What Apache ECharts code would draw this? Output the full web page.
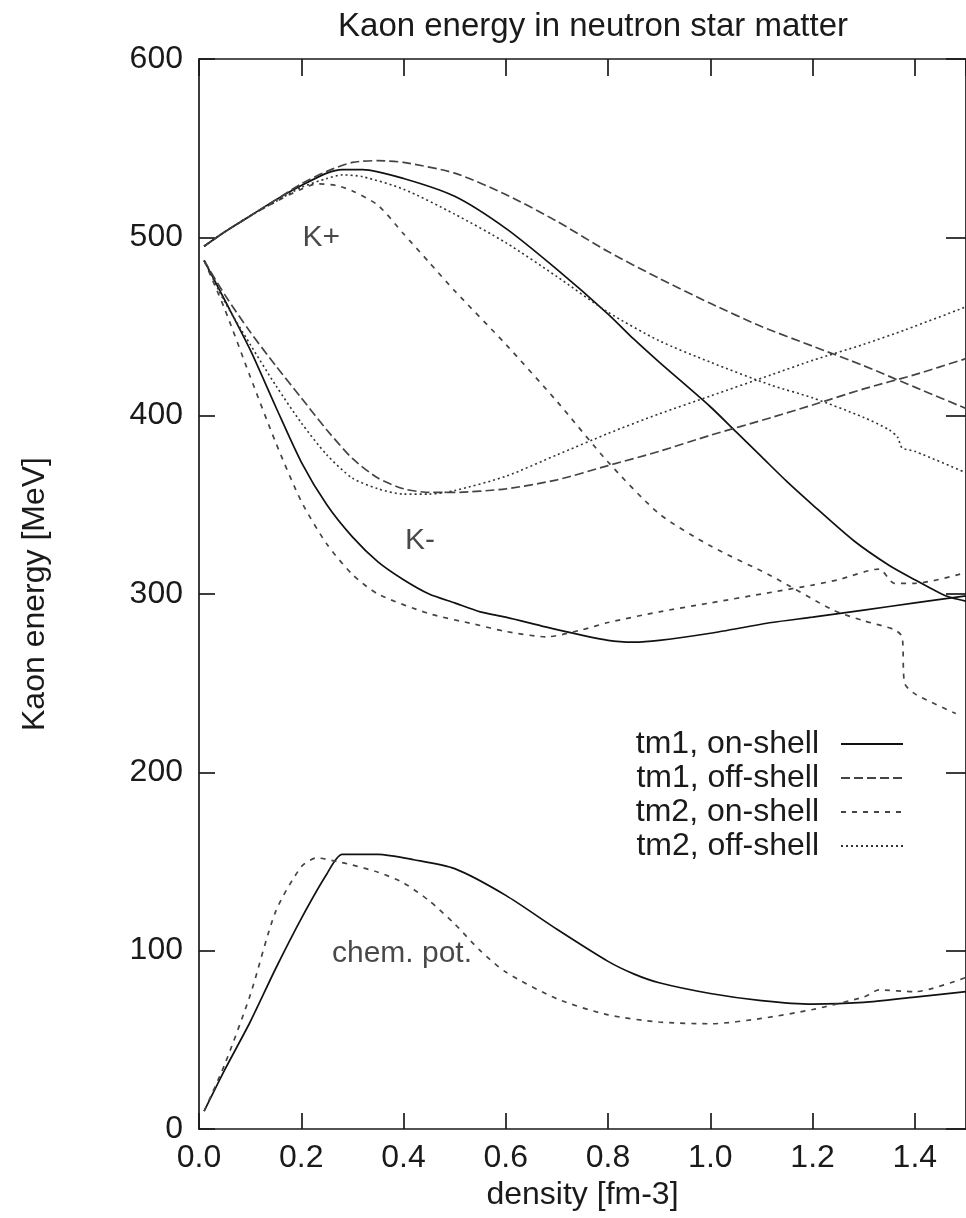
<!DOCTYPE html>
<html>
<head>
<meta charset="utf-8">
<script src="https://cdn.jsdelivr.net/npm/echarts@6/dist/echarts.min.js"></script>
<style>
  html, body { margin: 0; padding: 0; background: #fff; }
  #chart { width: 966px; height: 1218px; }
</style>
</head>
<body>
<div id="chart"></div>
<script>
// Kaon energies (MeV) versus baryon density (fm^-3), with the K- chemical potential.
const xTicks = [0.0, 0.2, 0.4, 0.6, 0.8, 1.0, 1.2, 1.4];
const yTicks = [0, 100, 200, 300, 400, 500, 600];

// tm1, on-shell
const tm1OnKplus = [[0.01,495],[0.05,503],[0.1,512],[0.15,521],[0.2,529],[0.25,536],[0.28,538],[0.32,538],[0.4,533],[0.5,523],[0.6,505],[0.7,482],[0.8,457],[0.85,443],[0.9,430],[1.0,405],[1.05,391],[1.1,377],[1.15,363],[1.2,350],[1.28,330],[1.35,316],[1.4,308],[1.46,299],[1.5,296]];
const tm1OnKminus = [[0.01,487],[0.05,465],[0.1,437],[0.15,405],[0.2,374],[0.25,350],[0.3,332],[0.35,318],[0.4,308],[0.45,300],[0.5,295],[0.55,290],[0.6,287],[0.7,280],[0.8,274],[0.85,273],[0.9,274],[1.0,278],[1.12,284],[1.2,287],[1.3,291],[1.4,295],[1.5,299]];
const tm1OnChem = [[0.01,10],[0.05,33],[0.1,60],[0.15,90],[0.2,118],[0.25,143],[0.28,154],[0.35,154],[0.42,151],[0.5,146],[0.6,131],[0.7,112],[0.8,94],[0.85,87],[0.9,82],[1.0,76],[1.1,72],[1.2,70],[1.3,71],[1.4,74],[1.5,77]];

// tm1, off-shell
const tm1OffKplus = [[0.01,495],[0.05,503],[0.1,512],[0.15,521],[0.2,530],[0.25,537],[0.3,542],[0.35,543],[0.4,542],[0.5,536],[0.6,524],[0.7,509],[0.8,492],[0.9,477],[1.0,463],[1.1,450],[1.2,439],[1.3,428],[1.4,416],[1.5,404]];
const tm1OffKminus = [[0.01,487],[0.05,468],[0.1,447],[0.15,428],[0.2,410],[0.25,392],[0.3,376],[0.35,365],[0.4,359],[0.45,357],[0.5,357],[0.6,359],[0.7,364],[0.8,372],[0.9,380],[1.0,389],[1.12,399],[1.2,406],[1.3,415],[1.4,423],[1.5,432]];

// tm2, on-shell
const tm2OnKplus = [[0.01,495],[0.05,503],[0.1,512],[0.15,520],[0.2,527],[0.23,530],[0.27,529],[0.3,526],[0.35,518],[0.4,502],[0.45,486],[0.5,470],[0.6,440],[0.7,408],[0.8,374],[0.9,345],[1.0,327],[1.12,310],[1.24,291],[1.3,285],[1.36,280],[1.375,276],[1.38,250],[1.4,244],[1.48,233]];
const tm2OnKminus = [[0.01,487],[0.05,460],[0.1,422],[0.15,385],[0.2,352],[0.25,328],[0.3,311],[0.35,300],[0.45,289],[0.54,283],[0.6,279],[0.68,276],[0.75,280],[0.8,284],[0.9,290],[1.0,295],[1.12,301],[1.2,305],[1.25,308],[1.33,314],[1.36,306],[1.4,306],[1.5,312]];
const tm2OnChem = [[0.01,10],[0.05,36],[0.1,75],[0.15,122],[0.2,147],[0.23,152],[0.27,150],[0.3,148],[0.35,144],[0.4,138],[0.45,128],[0.5,115],[0.55,100],[0.6,88],[0.7,73],[0.8,64],[0.9,60],[1.0,59],[1.1,62],[1.2,67],[1.3,74],[1.33,78],[1.4,77],[1.5,85]];

// tm2, off-shell
const tm2OffKplus = [[0.01,495],[0.05,503],[0.1,512],[0.15,520],[0.2,528],[0.25,533],[0.28,535],[0.32,534],[0.4,527],[0.5,513],[0.6,497],[0.7,478],[0.8,458],[0.9,442],[1.0,430],[1.12,417],[1.2,410],[1.3,399],[1.35,392],[1.366,388],[1.375,382],[1.4,380],[1.5,368]];
const tm2OffKminus = [[0.01,487],[0.05,464],[0.1,440],[0.15,417],[0.2,396],[0.25,378],[0.3,365],[0.35,359],[0.4,356],[0.45,356],[0.5,358],[0.6,366],[0.7,378],[0.8,390],[0.9,401],[1.0,411],[1.12,423],[1.2,431],[1.3,440],[1.38,448],[1.5,461]];

// Curve annotations
const noteText = ['K+', 'K-', 'chem. pot.'];
const noteX = [0.239, 0.432, 0.397];
const noteY = [500, 330, 98];

const legendNames = ['tm1, on-shell', 'tm1, off-shell', 'tm2, on-shell', 'tm2, off-shell'];

const FONT = 'Liberation Sans, Arial, sans-serif';
const INK = '#1a1a1a';
const FS = 32;

const styles = {
  'tm1, on-shell':  { color: '#111', type: 'solid', width: 1.7 },
  'tm1, off-shell': { color: '#444', type: [9, 4], width: 1.7 },
  'tm2, on-shell':  { color: '#444', type: [5, 6], width: 1.7 },
  'tm2, off-shell': { color: '#333', type: [2, 3], width: 1.6 }
};

function curve(name, data) {
  return {
    name: name,
    type: 'line',
    data: data,
    showSymbol: false,
    symbol: 'none',
    smooth: 0.25,
    lineStyle: styles[name],
    itemStyle: { color: styles[name].color },
    emphasis: { disabled: true },
    z: 3
  };
}

const chart = echarts.init(document.getElementById('chart'), null, { renderer: 'canvas' });

const axisLineStyle = { color: INK, width: 1.7 };
function frameAxis(tickLength) {
  return {
    axisLine: { onZero: false, lineStyle: axisLineStyle },
    axisTick: { inside: true, length: tickLength, lineStyle: axisLineStyle },
    splitLine: { show: false }
  };
}

chart.setOption({
  animation: false,
  backgroundColor: '#fff',
  title: {
    text: 'Kaon energy in neutron star matter',
    left: 588,
    top: 5,
    textAlign: 'center',
    textStyle: { fontFamily: FONT, fontSize: 33, fontWeight: 'normal', color: INK }
  },
  grid: { left: 199, top: 59, right: -11, bottom: 89, containLabel: false },
  legend: {
    data: legendNames,
    orient: 'vertical',
    align: 'right',
    right: 57,
    top: 723,
    itemWidth: 62,
    itemHeight: 14,
    itemGap: 2,
    selectedMode: false,
    itemStyle: { opacity: 0 },
    textStyle: { fontFamily: FONT, fontSize: FS, color: INK, padding: [0, 17, 0, 0], lineHeight: 31 }
  },
  xAxis: [
    Object.assign({
      type: 'value', min: 0, max: 1.5, interval: 0.2, position: 'bottom',
      name: 'density [fm-3]', nameLocation: 'middle', nameGap: 47,
      nameTextStyle: { fontFamily: FONT, fontSize: FS, color: INK },
      axisLabel: {
        margin: 13, fontFamily: FONT, fontSize: FS, color: INK, showMaxLabel: false,
        formatter: v => (xTicks.some(t => Math.abs(t - v) < 1e-9) ? v.toFixed(1) : '')
      }
    }, frameAxis(16)),
    Object.assign({
      type: 'value', min: 0, max: 1.5, interval: 0.2, position: 'top',
      axisLabel: { show: false }
    }, frameAxis(17))
  ],
  yAxis: [
    Object.assign({
      type: 'value', min: 0, max: 600, interval: 100, position: 'left',
      name: 'Kaon energy [MeV]', nameLocation: 'middle', nameGap: 148, nameRotate: 90,
      nameTextStyle: { fontFamily: FONT, fontSize: FS, color: INK },
      axisLabel: {
        margin: 16, fontFamily: FONT, fontSize: FS, color: INK,
        formatter: v => (yTicks.includes(v) ? String(v) : '')
      }
    }, frameAxis(16)),
    Object.assign({
      type: 'value', min: 0, max: 600, interval: 100, position: 'right',
      axisLabel: { show: false }
    }, frameAxis(20))
  ],
  series: [
    curve('tm1, on-shell', tm1OnKplus),
    curve('tm1, off-shell', tm1OffKplus),
    curve('tm2, on-shell', tm2OnKplus),
    curve('tm2, off-shell', tm2OffKplus),
    curve('tm1, on-shell', tm1OnKminus),
    curve('tm1, off-shell', tm1OffKminus),
    curve('tm2, on-shell', tm2OnKminus),
    curve('tm2, off-shell', tm2OffKminus),
    curve('tm1, on-shell', tm1OnChem),
    curve('tm2, on-shell', tm2OnChem),
    {
      name: 'notes',
      type: 'scatter',
      symbolSize: 0,
      silent: true,
      data: noteText.map((t, i) => ({ name: t, value: [noteX[i], noteY[i]] })),
      label: {
        show: true, position: 'inside', formatter: p => p.name,
        fontFamily: FONT, fontSize: FS - 2, color: INK
      },
      z: 4
    }
  ]
});
</script>
</body>
</html>
